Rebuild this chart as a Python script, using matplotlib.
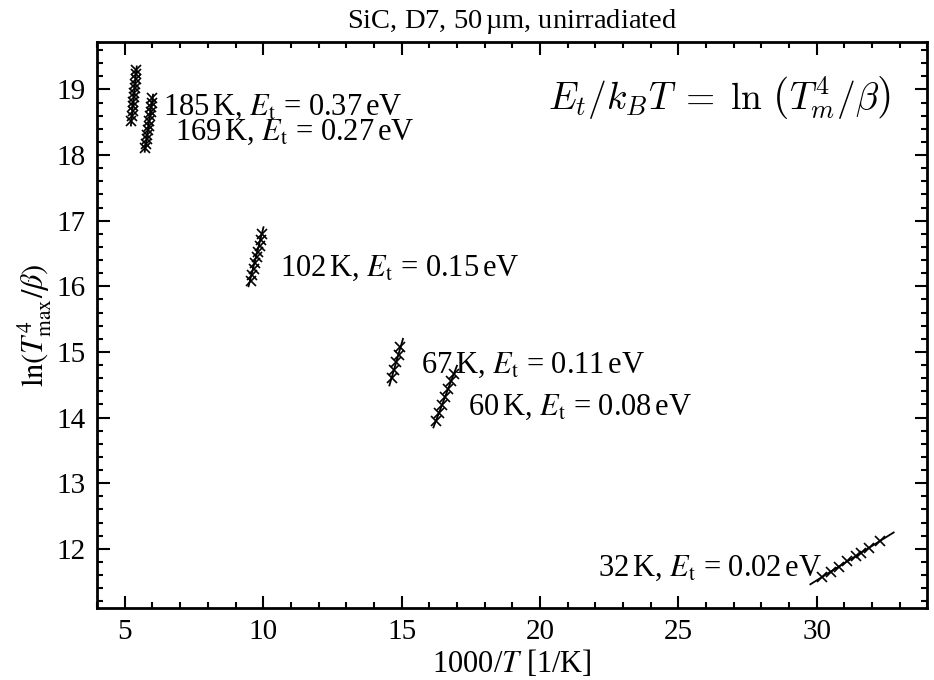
import matplotlib
matplotlib.use("Agg")
import matplotlib.pyplot as plt
from matplotlib.ticker import MultipleLocator

plt.rcParams['font.family'] = ['Liberation Serif', 'DejaVu Serif']
plt.rcParams['mathtext.fontset'] = 'stix'

# measured points (1000/T, ln(Tmax^4/beta)) for each trap
x185 = [5.24, 5.25, 5.28, 5.28, 5.31, 5.32, 5.33, 5.36, 5.36, 5.39, 5.40, 5.42]
y185 = [18.52, 18.60, 18.67, 18.74, 18.81, 18.88, 18.95, 19.02, 19.09, 19.16, 19.23, 19.30]
x169 = [5.74, 5.76, 5.79, 5.81, 5.83, 5.86, 5.89, 5.90, 5.93, 5.95, 5.98, 6.00]
y169 = [18.10, 18.17, 18.24, 18.31, 18.38, 18.45, 18.52, 18.59, 18.66, 18.73, 18.80, 18.87]
x102 = [9.55, 9.60, 9.66, 9.70, 9.76, 9.81, 9.87, 9.92, 9.97]
y102 = [16.08, 16.17, 16.26, 16.35, 16.44, 16.53, 16.62, 16.71, 16.80]
x67 = [14.64, 14.71, 14.80, 14.89, 14.96]
y67 = [14.60, 14.72, 14.84, 14.96, 15.08]
x60 = [16.24, 16.35, 16.46, 16.57, 16.67, 16.78, 16.89]
y60 = [13.95, 14.07, 14.19, 14.31, 14.43, 14.55, 14.67]
x32 = [30.2, 30.5, 30.8, 31.1, 31.4, 31.6, 31.9, 32.3]
y32 = [11.57, 11.65, 11.73, 11.81, 11.89, 11.94, 12.02, 12.12]

# fitted line end points
fit185 = ([5.22, 5.43], [18.45, 19.35])
fit169 = ([5.72, 6.02], [18.05, 18.92])
fit102 = ([9.47, 10.01], [16.00, 16.90])
fit67 = ([14.56, 15.05], [14.49, 15.20])
fit60 = ([16.15, 17.00], [13.85, 14.79])
fit32 = ([29.77, 32.78], [11.46, 12.25])

labels = ["185$\\,$K, $E_{\\rm t}$ = 0.37$\\,$eV", "169$\\,$K, $E_{\\rm t}$ = 0.27$\\,$eV",
          "102$\\,$K, $E_{\\rm t}$ = 0.15$\\,$eV", "67$\\,$K, $E_{\\rm t}$ = 0.11$\\,$eV",
          "60$\\,$K, $E_{\\rm t}$ = 0.08$\\,$eV", "32$\\,$K, $E_{\\rm t}$ = 0.02$\\,$eV"]
label_x = [6.39, 6.82, 10.61, 15.71, 17.41, 22.11]
label_y = [18.73, 18.35, 16.27, 14.79, 14.15, 11.71]

fig = plt.figure(figsize=(9.34, 6.8), dpi=100)
ax = fig.add_axes([0.104, 0.106, 0.889, 0.832])

groups = [(x185, y185, fit185), (x169, y169, fit169), (x102, y102, fit102),
          (x67, y67, fit67), (x60, y60, fit60), (x32, y32, fit32)]
for xs, ys, fit in groups:
    ax.plot(fit[0], fit[1], color='black', lw=1.3)
    ax.plot(xs, ys, 'x', color='black', ms=7, mew=1.2)

for txt, tx, ty in zip(labels, label_x, label_y):
    ax.text(tx, ty, txt, fontsize=22, va='center', ha='left')

ax.text(26.48, 18.88, r"$E_t/k_BT \;=\; \ln\,\left(T_m^4/\beta\right)$", fontsize=27,
        ha='center', va='center', math_fontfamily='cm')

ax.set_xlim(4, 34)
ax.set_ylim(11.1, 19.72)
ax.xaxis.set_major_locator(MultipleLocator(5))
ax.xaxis.set_minor_locator(MultipleLocator(1))
ax.yaxis.set_major_locator(MultipleLocator(1))
ax.yaxis.set_minor_locator(MultipleLocator(0.2))
ax.tick_params(which='both', direction='in', top=True, right=True, labelsize=21, width=1.5)
ax.tick_params(which='major', length=9, pad=8)
ax.tick_params(which='minor', length=4)
for s in ax.spines.values():
    s.set_linewidth(2)

ax.set_title("SiC, D7, 50$\\,$µm, unirradiated", fontsize=20.5, pad=10)
ax.set_xlabel("1000/$T$ [1/K]", fontsize=22, labelpad=2)
ax.set_ylabel(r"$\ln(T_{\rm max}^4/\beta)$", fontsize=22, labelpad=2)

fig.savefig("out.png", dpi=100)
